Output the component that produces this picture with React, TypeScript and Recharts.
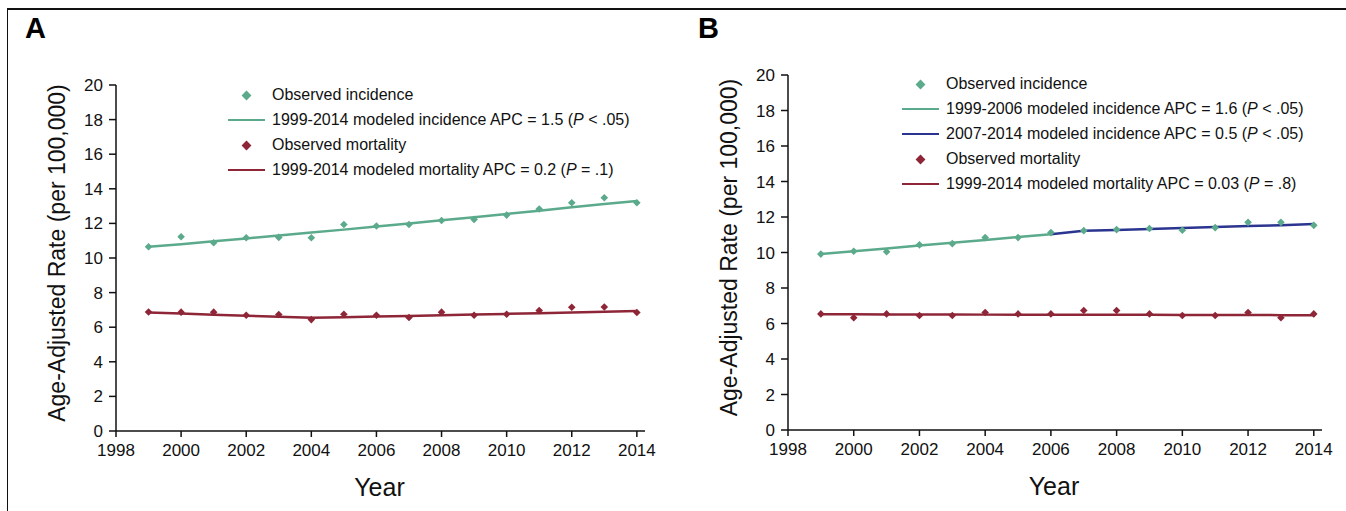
import React from 'react';
import { ComposedChart, Line, Scatter, XAxis, YAxis, Legend } from 'recharts';

const years = [1999, 2000, 2001, 2002, 2003, 2004, 2005, 2006, 2007, 2008, 2009, 2010, 2011, 2012, 2013, 2014];
const xTicks = [1998, 2000, 2002, 2004, 2006, 2008, 2010, 2012, 2014];
const yTicks = [0, 2, 4, 6, 8, 10, 12, 14, 16, 18, 20];

// Panel A
const aIncObs = [10.65, 11.23, 10.88, 11.17, 11.19, 11.17, 11.94, 11.85, 11.94, 12.17, 12.23, 12.48, 12.83, 13.19, 13.48, 13.19];
const aIncModel = [10.65, 10.8, 10.97, 11.13, 11.3, 11.47, 11.64, 11.82, 12.0, 12.18, 12.36, 12.55, 12.73, 12.93, 13.12, 13.3];
const aMortObs = [6.88, 6.87, 6.87, 6.69, 6.73, 6.44, 6.75, 6.69, 6.56, 6.87, 6.69, 6.75, 6.96, 7.15, 7.17, 6.85];
const aMortModel = [6.85, 6.79, 6.72, 6.66, 6.6, 6.54, 6.58, 6.62, 6.65, 6.69, 6.73, 6.77, 6.81, 6.85, 6.89, 6.93];

// Panel B
const bIncObs = [9.91, 10.07, 10.04, 10.43, 10.5, 10.84, 10.84, 11.12, 11.23, 11.29, 11.35, 11.25, 11.4, 11.7, 11.7, 11.53];
const bIncModel1 = [9.92, 10.07, 10.23, 10.39, 10.55, 10.71, 10.87, 11.03, null, null, null, null, null, null, null, null];
const bIncModel2 = [null, null, null, null, null, null, null, 11.03, 11.22, 11.27, 11.33, 11.38, 11.43, 11.49, 11.54, 11.6];
const bMortObs = [6.54, 6.32, 6.54, 6.45, 6.45, 6.62, 6.54, 6.54, 6.73, 6.73, 6.54, 6.45, 6.45, 6.62, 6.32, 6.54];
const bMortModel = [6.52, 6.52, 6.51, 6.51, 6.51, 6.5, 6.5, 6.5, 6.49, 6.49, 6.49, 6.48, 6.48, 6.48, 6.47, 6.47];

const GREEN = '#5BAA8C';
const RED = '#8E2637';
const NAVY = '#2B3590';

type LegendItem = { kind: 'dot' | 'line'; color: string; pre: string; p?: string; post?: string };

const legendA: LegendItem[] = [
  { kind: 'dot', color: GREEN, pre: 'Observed incidence' },
  { kind: 'line', color: GREEN, pre: '1999-2014 modeled incidence APC = 1.5 (', p: 'P', post: ' < .05)' },
  { kind: 'dot', color: RED, pre: 'Observed mortality' },
  { kind: 'line', color: RED, pre: '1999-2014 modeled mortality APC = 0.2 (', p: 'P', post: ' = .1)' },
];

const legendB: LegendItem[] = [
  { kind: 'dot', color: GREEN, pre: 'Observed incidence' },
  { kind: 'line', color: GREEN, pre: '1999-2006 modeled incidence APC = 1.6 (', p: 'P', post: ' < .05)' },
  { kind: 'line', color: NAVY, pre: '2007-2014 modeled incidence APC = 0.5 (', p: 'P', post: ' < .05)' },
  { kind: 'dot', color: RED, pre: 'Observed mortality' },
  { kind: 'line', color: RED, pre: '1999-2014 modeled mortality APC = 0.03 (', p: 'P', post: ' = .8)' },
];

const rowsA = years.map((year, i) => ({
  year,
  incObs: aIncObs[i],
  incModel: aIncModel[i],
  mortObs: aMortObs[i],
  mortModel: aMortModel[i],
}));

const rowsB = years.map((year, i) => ({
  year,
  incObs: bIncObs[i],
  incModel1: bIncModel1[i],
  incModel2: bIncModel2[i],
  mortObs: bMortObs[i],
  mortModel: bMortModel[i],
}));

const SANS = "'Liberation Sans', Arial, Helvetica, sans-serif";

const diamond = (color: string, r: number) => (props: any) => {
  const { cx, cy } = props;
  if (cx == null || cy == null || isNaN(cx) || isNaN(cy)) return <g />;
  return <polygon points={`${cx},${cy - r} ${cx + r},${cy} ${cx},${cy + r} ${cx - r},${cy}`} fill={color} />;
};

const LegendBox = ({ items }: { items: LegendItem[] }) => (
  <div style={{ fontFamily: SANS, fontSize: 16, color: '#111' }}>
    {items.map((it, i) => (
      <div key={i} style={{ height: 25, display: 'flex', alignItems: 'center', whiteSpace: 'nowrap' }}>
        <div style={{ width: 44, height: 25, position: 'relative', flex: 'none' }}>
          {it.kind === 'line' ? (
            <div style={{ position: 'absolute', left: 0, top: 11.25, width: 37, height: 2.5, background: it.color }} />
          ) : (
            <div
              style={{
                position: 'absolute',
                left: 14.5,
                top: 9,
                width: 7,
                height: 7,
                background: it.color,
                transform: 'rotate(45deg)',
              }}
            />
          )}
        </div>
        <span>
          {it.pre}
          {it.p ? <i>{it.p}</i> : null}
          {it.post || ''}
        </span>
      </div>
    ))}
  </div>
);

const yLabel = (props: any) => {
  const vb = props.viewBox || {};
  const x = vb.x + 9;
  const y = vb.y + vb.height / 2 - 5;
  return (
    <text
      x={x}
      y={y}
      transform={`rotate(-90, ${x}, ${y})`}
      textAnchor="middle"
      fontFamily={SANS}
      fontSize={23}
      fill="#111"
    >
      Age-Adjusted Rate (per 100,000)
    </text>
  );
};

const xLabel = (props: any) => {
  const vb = props.viewBox || {};
  return (
    <text
      x={vb.x + (vb.width || 0) / 2 - 1}
      y={vb.y + 65}
      textAnchor="middle"
      fontFamily={SANS}
      fontSize={25}
      fill="#111"
    >
      Year
    </text>
  );
};

const tickStyle = { fontFamily: SANS, fontSize: 17, fill: '#111' };
const axisLine = { stroke: '#111', strokeWidth: 1.5 };

export default function App() {
  return (
    <div style={{ position: 'absolute', left: 0, top: 0, width: 1346, height: 511, background: '#fff', overflow: 'hidden' }}>
      <div
        style={{
          position: 'absolute',
          left: 7,
          top: 8,
          right: 0,
          bottom: 0,
          borderTop: '2px solid #111',
          borderLeft: '1.5px solid #111',
        }}
      />
      <div style={{ position: 'absolute', left: 25, top: 13.5, fontFamily: SANS, fontWeight: 700, fontSize: 29, lineHeight: '29px' }}>
        A
      </div>
      <div style={{ position: 'absolute', left: 698, top: 13.5, fontFamily: SANS, fontWeight: 700, fontSize: 29, lineHeight: '29px' }}>
        B
      </div>

      <div style={{ position: 'absolute', left: 0, top: 0 }}>
        <ComposedChart width={680} height={511} data={rowsA} margin={{ top: 85, right: 35, left: 56, bottom: 20 }}>
          <XAxis
            dataKey="year"
            type="number"
            domain={[1998, 2014.25]}
            ticks={xTicks}
            interval={0}
            tick={tickStyle}
            tickSize={6}
            tickMargin={7}
            axisLine={axisLine}
            tickLine={axisLine}
            height={60}
            allowDataOverflow
            label={{ content: xLabel }}
          />
          <YAxis
            type="number"
            domain={[0, 20]}
            ticks={yTicks}
            interval={0}
            tick={tickStyle}
            tickSize={7}
            tickMargin={6}
            axisLine={axisLine}
            tickLine={axisLine}
            width={60}
            label={{ content: yLabel }}
          />
          <Legend
            layout="horizontal"
            verticalAlign="middle"
            align="center"
            wrapperStyle={{ top: 82.5, left: 228, width: 'auto' }}
            content={() => <LegendBox items={legendA} />}
          />
          <Line dataKey="incModel" stroke={GREEN} strokeWidth={2.5} dot={false} isAnimationActive={false} legendType="none" />
          <Line dataKey="mortModel" stroke={RED} strokeWidth={2.5} dot={false} isAnimationActive={false} legendType="none" />
          <Scatter dataKey="incObs" fill={GREEN} shape={diamond(GREEN, 3.8)} isAnimationActive={false} legendType="none" />
          <Scatter dataKey="mortObs" fill={RED} shape={diamond(RED, 3.8)} isAnimationActive={false} legendType="none" />
        </ComposedChart>
      </div>

      <div style={{ position: 'absolute', left: 680, top: 0 }}>
        <ComposedChart width={666} height={511} data={rowsB} margin={{ top: 75, right: 24, left: 48, bottom: 21 }}>
          <XAxis
            dataKey="year"
            type="number"
            domain={[1998, 2014.25]}
            ticks={xTicks}
            interval={0}
            tick={tickStyle}
            tickSize={6}
            tickMargin={7}
            axisLine={axisLine}
            tickLine={axisLine}
            height={60}
            allowDataOverflow
            label={{ content: xLabel }}
          />
          <YAxis
            type="number"
            domain={[0, 20]}
            ticks={yTicks}
            interval={0}
            tick={tickStyle}
            tickSize={7}
            tickMargin={6}
            axisLine={axisLine}
            tickLine={axisLine}
            width={60}
            label={{ content: yLabel }}
          />
          <Legend
            layout="horizontal"
            verticalAlign="middle"
            align="center"
            wrapperStyle={{ top: 71.5, left: 222, width: 'auto' }}
            content={() => <LegendBox items={legendB} />}
          />
          <Line dataKey="incModel1" stroke={GREEN} strokeWidth={2.5} dot={false} isAnimationActive={false} legendType="none" />
          <Line dataKey="incModel2" stroke={NAVY} strokeWidth={2.5} dot={false} isAnimationActive={false} legendType="none" />
          <Line dataKey="mortModel" stroke={RED} strokeWidth={2.5} dot={false} isAnimationActive={false} legendType="none" />
          <Scatter dataKey="incObs" fill={GREEN} shape={diamond(GREEN, 3.8)} isAnimationActive={false} legendType="none" />
          <Scatter dataKey="mortObs" fill={RED} shape={diamond(RED, 3.8)} isAnimationActive={false} legendType="none" />
        </ComposedChart>
      </div>
    </div>
  );
}
